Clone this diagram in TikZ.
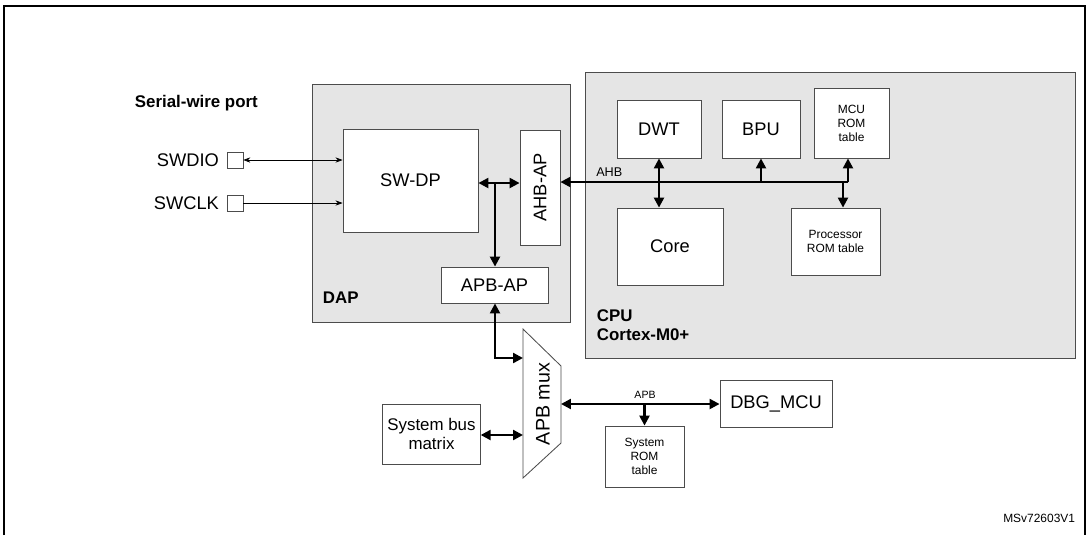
\documentclass[tikz,border=0pt]{standalone}
\usepackage{fontspec}
\setmainfont{Liberation Sans}
\usetikzlibrary{positioning,arrows.meta,calc}

\begin{document}
\begin{tikzpicture}[
        x=0.025cm, y=-0.025cm,
        every node/.style={font=\fontsize{13}{15}\selectfont},
        arrow/.style={-{Triangle[length=7pt,width=7pt]}, line width=1.6pt},
        darrow/.style={{Triangle[length=7pt,width=7pt]}-{Triangle[length=7pt,width=7pt]}, line width=1.6pt},
        thinarrow/.style={{Stealth[length=5pt]}-{Stealth[length=5pt]}, line width=0.5pt},
        block/.style={rectangle, draw=black!70, fill=white, text centered, line width=0.6pt},
        group/.style={rectangle, draw=black!70, fill=black!10, line width=0.6pt},
        small/.style={font=\fontsize{8.5}{10}\selectfont, align=center},
        pin/.style={rectangle, draw=black!70, fill=white, minimum size=0.4cm, inner sep=0pt},
    ]
        \useasboundingbox (0,0) rectangle (1087,535);
        % Frame
        \draw[line width=1pt] (4,535) -- (4,6) -- (1085,6) -- (1085,535);

        % Groups
        \node (dap) [group, minimum width=6.45cm, minimum height=5.95cm] at (441,203) {};
        \node (cpu) [group, minimum width=12.25cm, minimum height=7.15cm] at (830,215) {};
        \node [anchor=south west, font=\bfseries\fontsize{12}{14}\selectfont] at (318,308) {DAP};
        \node [anchor=south west, font=\bfseries\fontsize{12}{14}\selectfont, align=left] at (592,346) {CPU\\Cortex-M0+};
        \node [anchor=west, font=\bfseries\fontsize{12}{14}\selectfont] at (130,103) {Serial-wire port};

        % Nodes
        \node (swdp) [block, minimum width=3.375cm, minimum height=2.575cm] at (410.5,180.5) {SW-DP};
        \node (ahbap) [block, minimum width=2.875cm, minimum height=1cm, rotate=90] at (540,187.5) {AHB-AP};
        \node (apbap) [block, minimum width=2.675cm, minimum height=0.9cm] at (494.5,285) {APB-AP};
        \node (dwt) [block, minimum width=2.1cm, minimum height=1.45cm] at (659,129) {DWT};
        \node (bpu) [block, minimum width=1.95cm, minimum height=1.45cm] at (761,129) {BPU};
        \node (mcurom) [block, small, minimum width=1.875cm, minimum height=1.75cm] at (851.5,123) {MCU\\ROM\\table};
        \node (core) [block, minimum width=2.65cm, minimum height=1.925cm] at (670,246.5) {Core};
        \node (procrom) [block, small, minimum width=2.225cm, minimum height=1.675cm] at (835.5,241.5) {Processor\\ROM table};
        \node (sysbus) [block, minimum width=2.325cm, minimum height=1.5cm, align=center, font=\fontsize{12}{14}\selectfont] at (431.5,434) {System bus\\matrix};
        \node (dbgmcu) [block, minimum width=2.8cm, minimum height=1.175cm] at (776,403.5) {DBG\_MCU};
        \node (sysrom) [block, small, minimum width=1.975cm, minimum height=1.525cm] at (644.5,456.5) {System\\ROM\\table};

        % APB mux
        \draw[draw=black!70, fill=white, line width=0.6pt] (523,329) -- (561,366) -- (561,443) -- (523,478) -- cycle;
        \node (mux) [rotate=90, font=\fontsize{14}{16}\selectfont] at (543,404) {APB mux};
        \coordinate (muxl) at (523,358);
        \coordinate (muxb) at (523,435);
        \coordinate (muxr) at (561,404);

        % Serial-wire pins
        \node (swdio) [pin] at (235,160) {};
        \node (swclk) [pin] at (235,203) {};
        \node [left=2pt of swdio] {SWDIO};
        \node [left=2pt of swclk] {SWCLK};
        \draw [thinarrow] (swdio.east) -- (swdio.east -| swdp.west);
        \draw [-{Stealth[length=5pt]}, line width=0.5pt] (swclk.east) -- (swclk.east -| swdp.west);

        % DAP arrows
        \coordinate (dpj) at (495,183);
        \draw [darrow] (swdp.east |- dpj) -- (ahbap.north |- dpj);
        \draw [arrow] (dpj) -- (apbap.north -| dpj);

        % AHB bus
        \coordinate (ahbend) at (848,182);
        \draw [arrow] (ahbend) -- (ahbap.south |- ahbend) node[pos=0.83, above, font=\fontsize{9}{10}\selectfont] {AHB};
        \draw [darrow] (dwt.south) -- (core.north -| dwt.south);
        \draw [arrow] (bpu.south |- ahbend) -- (bpu.south);
        \draw [arrow] (ahbend) -- (mcurom.south -| ahbend);
        \draw [line width=1.6pt] (ahbend) -- ++(-5,0) coordinate (prj);
        \draw [arrow] (prj) -- (procrom.north -| prj);

        % APB side
        \draw [darrow] (apbap.south -| dpj) |- (muxl);
        \draw [darrow] (sysbus.east |- muxb) -- (muxb);
        \draw [darrow] (muxr) -- (dbgmcu.west |- muxr) node[pos=0.53, above, font=\fontsize{7.5}{9}\selectfont] {APB};
        \draw [arrow] (sysrom.north |- muxr) -- (sysrom.north);

        \node [anchor=east, font=\fontsize{8.5}{10}\selectfont] at (1080,518) {MSv72603V1};
    \end{tikzpicture}
\end{document}
